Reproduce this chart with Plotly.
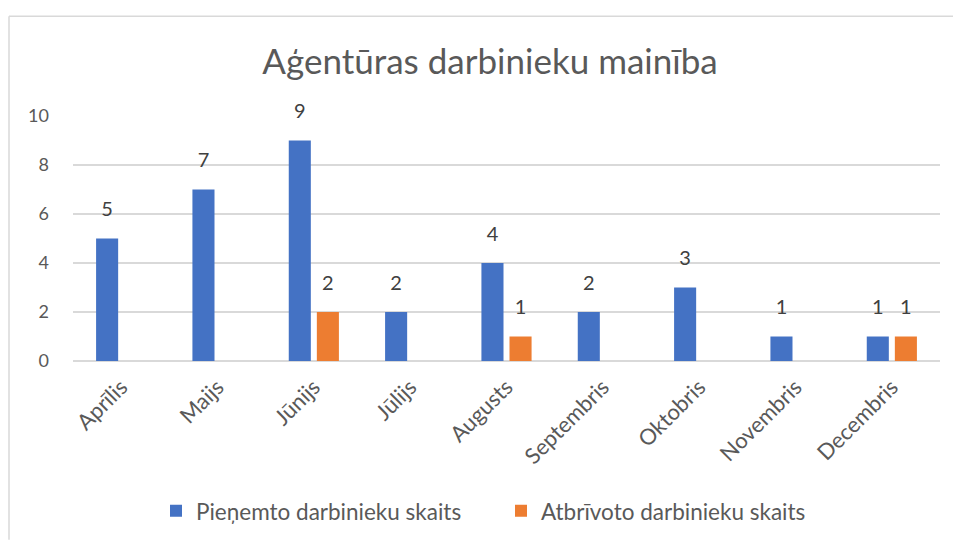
import plotly.graph_objects as go

months = ["Aprīlis", "Maijs", "Jūnijs", "Jūlijs", "Augusts", "Septembris", "Oktobris", "Novembris", "Decembris"]
hired = [5, 7, 9, 2, 4, 2, 3, 1, 1]
released = [0, 0, 2, 0, 1, 0, 0, 0, 1]
y_ticks = [0, 2, 4, 6, 8, 10]

W, H = 953, 545
L, R, T, B = 73, 13, 116, 181
pw, ph = W - L - R, H - T - B
BARGAP = 0.417

def px_x(x):
    return (x - L) / pw

def px_y(y):
    return (H - B - y) / ph

fig = go.Figure()
series = [("Pieņemto darbinieku skaits", hired, "#4472C4"),
          ("Atbrīvoto darbinieku skaits", released, "#ED7D31")]
for name, vals, col in series:
    fig.add_trace(go.Bar(
        x=months, y=vals, name=name, offsetgroup=name,
        marker=dict(color=col, line=dict(width=0)),
    ))
for name, vals, col in series:
    fig.add_trace(go.Scatter(
        x=months, y=vals, mode="markers+text", offsetgroup=name,
        text=[str(v) if v else "" for v in vals], textposition="top center",
        marker=dict(size=26, color="rgba(0,0,0,0)"),
        textfont=dict(size=20, color="#404040", family="Lato"),
        showlegend=False, hoverinfo="skip", cliponaxis=False,
    ))

fig.update_layout(
    width=W, height=H,
    margin=dict(l=L, r=R, t=T, b=B),
    paper_bgcolor="white", plot_bgcolor="white",
    font=dict(family="Lato", color="#595959"),
    title=dict(text="Aģentūras darbinieku mainība", x=490 / W, xanchor="center",
               y=1 - 62 / H, yanchor="middle",
               font=dict(size=35, color="#595959", family="Lato")),
    barmode="group", bargap=BARGAP, bargroupgap=0.214,
    scattermode="group", scattergap=BARGAP,
    showlegend=True,
    legend=dict(orientation="h", x=px_x(501), xanchor="center", y=px_y(516), yanchor="middle",
                font=dict(size=22.5, color="#595959", family="Lato"),
                itemwidth=30, traceorder="normal", entrywidth=300),
    xaxis=dict(tickangle=-45, tickfont=dict(size=22, color="#595959"),
               showgrid=False, showline=False, ticks="", ticklabelstandoff=8),
    yaxis=dict(range=[0, 10], tickvals=y_ticks, tickfont=dict(size=18, color="#595959"),
               showgrid=True, gridcolor="#D9D9D9", gridwidth=1.5, zeroline=True,
               zerolinecolor="#D9D9D9", zerolinewidth=1.5,
               showline=False, ticks="", ticklabelstandoff=23),
    shapes=[
        dict(type="line", xref="paper", yref="paper", x0=px_x(9), x1=px_x(953),
             y0=px_y(15), y1=px_y(15), line=dict(color="#D9D9D9", width=1.5)),
        dict(type="line", xref="paper", yref="paper", x0=px_x(9), x1=px_x(9),
             y0=px_y(15), y1=px_y(545), line=dict(color="#D9D9D9", width=1.5)),
    ],
)

fig.write_html("out.html", config={"displayModeBar": False},
               post_script="document.body.style.margin='0';document.body.style.overflow='hidden';")
